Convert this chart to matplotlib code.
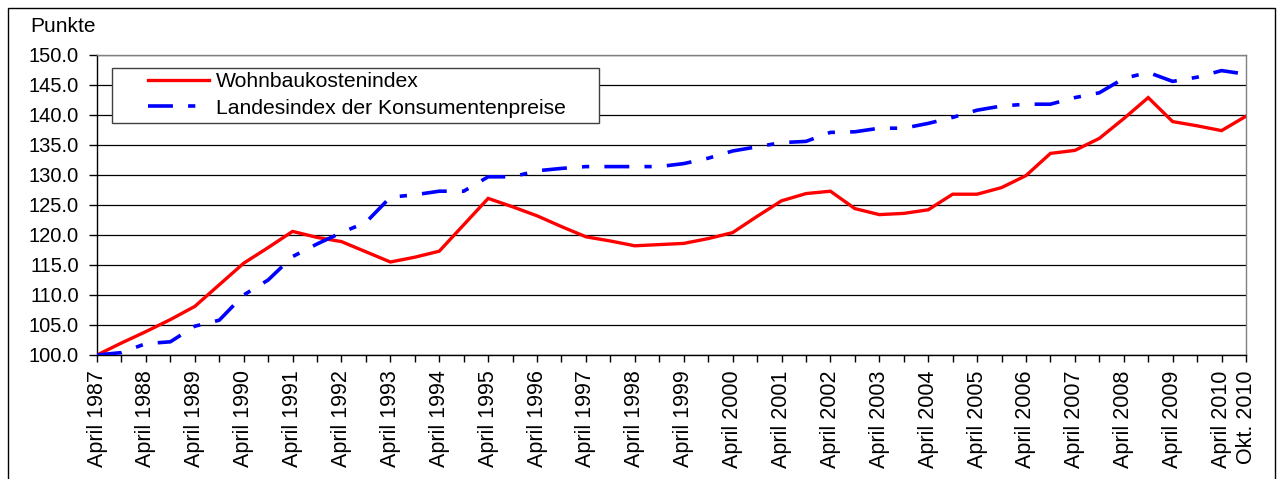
import matplotlib
matplotlib.use("Agg")
import matplotlib.pyplot as plt
from matplotlib.patches import Rectangle

plt.rcParams['font.family'] = ['Liberation Sans', 'DejaVu Sans']

# semiannual periods April 1987 .. Oktober 2010
years = list(range(1987, 2011))
tick_labels = []
for y in years:
    tick_labels.append(f"April {y}")
    tick_labels.append("Okt. 2010" if y == 2010 else "")

wohnbau = [100.0, 102.0, 103.9, 105.9, 108.1, 111.7, 115.3, 117.9, 120.6, 119.6,
           118.9, 117.2, 115.5, 116.3, 117.3, 121.7, 126.1, 124.7, 123.2, 121.4,
           119.7, 119.0, 118.2, 118.4, 118.6, 119.4, 120.4, 123.1, 125.7, 126.9,
           127.3, 124.4, 123.4, 123.6, 124.2, 126.8, 126.8, 127.9, 129.9, 133.6,
           134.1, 136.1, 139.4, 142.9, 138.9, 138.2, 137.4, 139.8]

konsument = [100.0, 100.4, 101.9, 102.2, 104.8, 105.8, 110.0, 112.5, 116.4, 118.5,
             120.4, 122.1, 126.3, 126.7, 127.3, 127.3, 129.7, 129.7, 130.7, 131.1,
             131.4, 131.4, 131.4, 131.4, 131.9, 132.8, 134.0, 134.7, 135.4, 135.6,
             137.1, 137.2, 137.8, 137.8, 138.6, 139.6, 140.8, 141.5, 141.8, 141.8,
             142.9, 143.7, 146.1, 147.1, 145.6, 146.3, 147.4, 146.8]

series_names = ["Wohnbaukostenindex", "Landesindex der Konsumentenpreise"]
y_ticks = [100.0 + 5 * k for k in range(11)]

W, H = 1279, 479
fig = plt.figure(figsize=(W / 100, H / 100), dpi=100)
ax = fig.add_axes([97 / W, 1 - 355 / H, (1246 - 97) / W, 300 / H])

x = list(range(len(wohnbau)))
ax.plot(x, wohnbau, color='#FF0000', lw=2.4, solid_joinstyle='miter', zorder=3,
        label=series_names[0])
ax.plot(x, konsument, color='#0000FF', lw=2.6, linestyle=(0, (6.9, 4.2, 2.0, 4.2)),
        zorder=3, label=series_names[1])

ax.set_xlim(0, len(x) - 1)
ax.set_ylim(100, 150)
ax.set_yticks(y_ticks)
ax.set_yticklabels([f"{v:.1f}" for v in y_ticks], fontsize=14.5)
ax.set_xticks(x)
ax.set_xticklabels(tick_labels, rotation=90, fontsize=15.5)
ax.tick_params(axis='x', length=5, width=1, direction='out', pad=6, color='black')
ax.tick_params(axis='y', length=6, width=1, direction='out', pad=7, color='black')

ax.grid(axis='y', color='black', lw=0.9)
ax.set_axisbelow(True)
for s in ['left', 'bottom']:
    ax.spines[s].set_color('black')
    ax.spines[s].set_linewidth(1.0)
for s in ['top', 'right']:
    ax.spines[s].set_color('#808080')
    ax.spines[s].set_linewidth(1.0)

# legend frame
lx0 = (112 - 97) / 1149
ly0 = (355 - 123) / 300
ax.add_patch(Rectangle((lx0, ly0), (599 - 112) / 1149, (123 - 68) / 300,
                       transform=ax.transAxes, facecolor='white', edgecolor='#404040',
                       lw=1.0, zorder=4))
leg = ax.legend(loc='upper left', bbox_to_anchor=((148 - 97) / 1149, (355 - 72) / 300),
                frameon=False, fontsize=15.2, handlelength=2.9, handletextpad=0.3,
                borderpad=0, borderaxespad=0, labelspacing=0.36)
leg.set_zorder(5)

fig.text(30 / W, 1 - 26 / H, "Punkte", fontsize=15, va='center', ha='left')

fig.patches.append(Rectangle((8 / W, -0.05), (1275 - 8) / W, 1.05 - 8 / H,
                             transform=fig.transFigure, fill=False,
                             edgecolor='black', lw=1.0))

fig.savefig("out.png", dpi=100)
